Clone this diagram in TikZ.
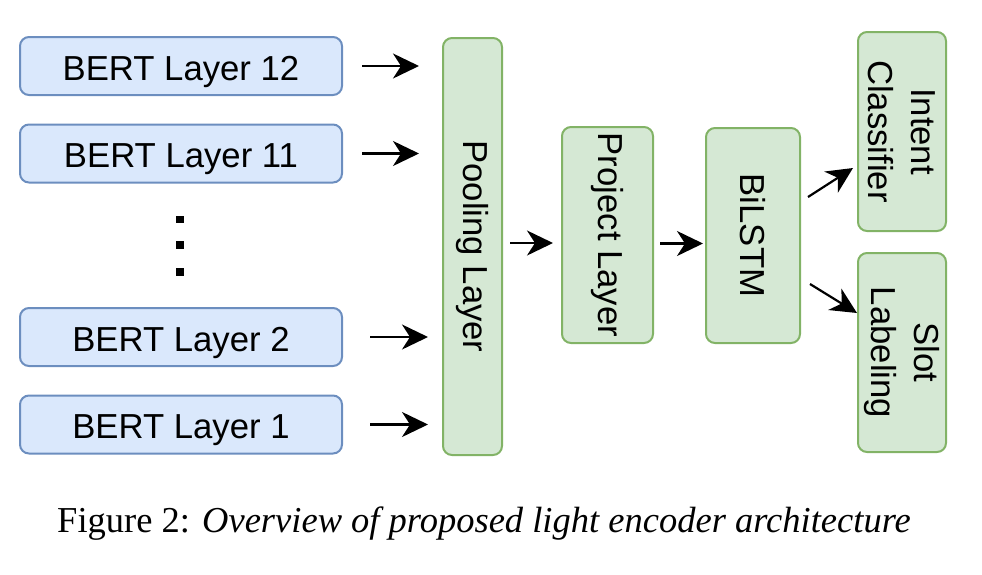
\documentclass[tikz,border=0pt]{standalone}
\usepackage{fontspec}
\setmainfont{Liberation Serif}
\newfontfamily\boxfont{Liberation Sans}
\usetikzlibrary{arrows.meta}
\definecolor{bluefill}{HTML}{DAE8FC}
\definecolor{bluedraw}{HTML}{6C8EBF}
\definecolor{greenfill}{HTML}{D5E8D4}
\definecolor{greendraw}{HTML}{82B366}
\tikzset{
  basebox/.style={rounded corners=9pt, line width=2pt, inner sep=0pt, outer sep=0pt,
    font=\boxfont\fontsize{34.7pt}{43pt}\selectfont, align=center},
  bluebox/.style={basebox, draw=bluedraw, fill=bluefill, minimum width=322pt, minimum height=58pt,
    text height=30pt, text depth=1.2pt},
  greenbox/.style={basebox, draw=greendraw, fill=greenfill, rotate=-90},
  arr/.style={line width=2.2pt, -{Stealth[length=26pt, width=25pt, inset=8pt]}},
  dotsq/.style={fill=black}
}
\begin{document}
\begin{tikzpicture}[x=1pt, y=-1pt]
\useasboundingbox (0,0) rectangle (982,574);
% BERT layers
\node[bluebox] (b12) at (181,66) {BERT Layer 12};
\node[bluebox] (b11) at (181,153.5) {BERT Layer 11};
\node[bluebox] (b2) at (181,337) {BERT Layer 2};
\node[bluebox] (b1) at (181,424.5) {BERT Layer 1};
% vertical dots
\fill[dotsq] (176,216) rectangle (184,223);
\fill[dotsq] (176,241) rectangle (184,249);
\fill[dotsq] (176,268) rectangle (184,276);
% green boxes
\node[greenbox, minimum width=417pt, minimum height=59pt] (pool) at (472.5,246.5) {Pooling Layer};
\node[greenbox, minimum width=216pt, minimum height=91pt] (proj) at (607.5,235) {Project Layer};
\node[greenbox, minimum width=215pt, minimum height=94pt] (bil) at (753,235.5) {BiLSTM};
\node[greenbox, minimum width=199pt, minimum height=88pt] (intent) at (902,131.5) {Intent\\Classifier};
\node[greenbox, minimum width=199pt, minimum height=88pt] (slot) at (902,352.5) {Slot\\Labeling};
% arrows
\draw[arr] ([xshift=20pt]b12.east) -- ([xshift=77pt]b12.east);
\draw[arr] ([xshift=20pt]b11.east) -- ([xshift=77pt]b11.east);
\draw[arr] ([xshift=28pt]b2.east) -- ([xshift=86pt]b2.east);
\draw[arr] ([xshift=28pt]b1.east) -- ([xshift=86pt]b1.east);
\draw[arr] ([shift={(37.5,-3.5)}]pool.center) -- ([shift={(80.5,-3.5)}]pool.center);
\draw[arr] ([shift={(52.5,8.5)}]proj.center) -- ([shift={(95.5,8.5)}]proj.center);
\draw[arr] ([shift={(55,-38.5)}]bil.center) -- ([shift={(100,-67.5)}]bil.center);
\draw[arr] ([shift={(57,48.5)}]bil.center) -- ([shift={(104,77.5)}]bil.center);
% caption
\node[anchor=base, inner sep=0pt, font=\fontsize{36.5pt}{44pt}\selectfont] (cap) at (484,532) {Figure 2: \textit{Overview of proposed light encoder architecture}};
\end{tikzpicture}
\end{document}
